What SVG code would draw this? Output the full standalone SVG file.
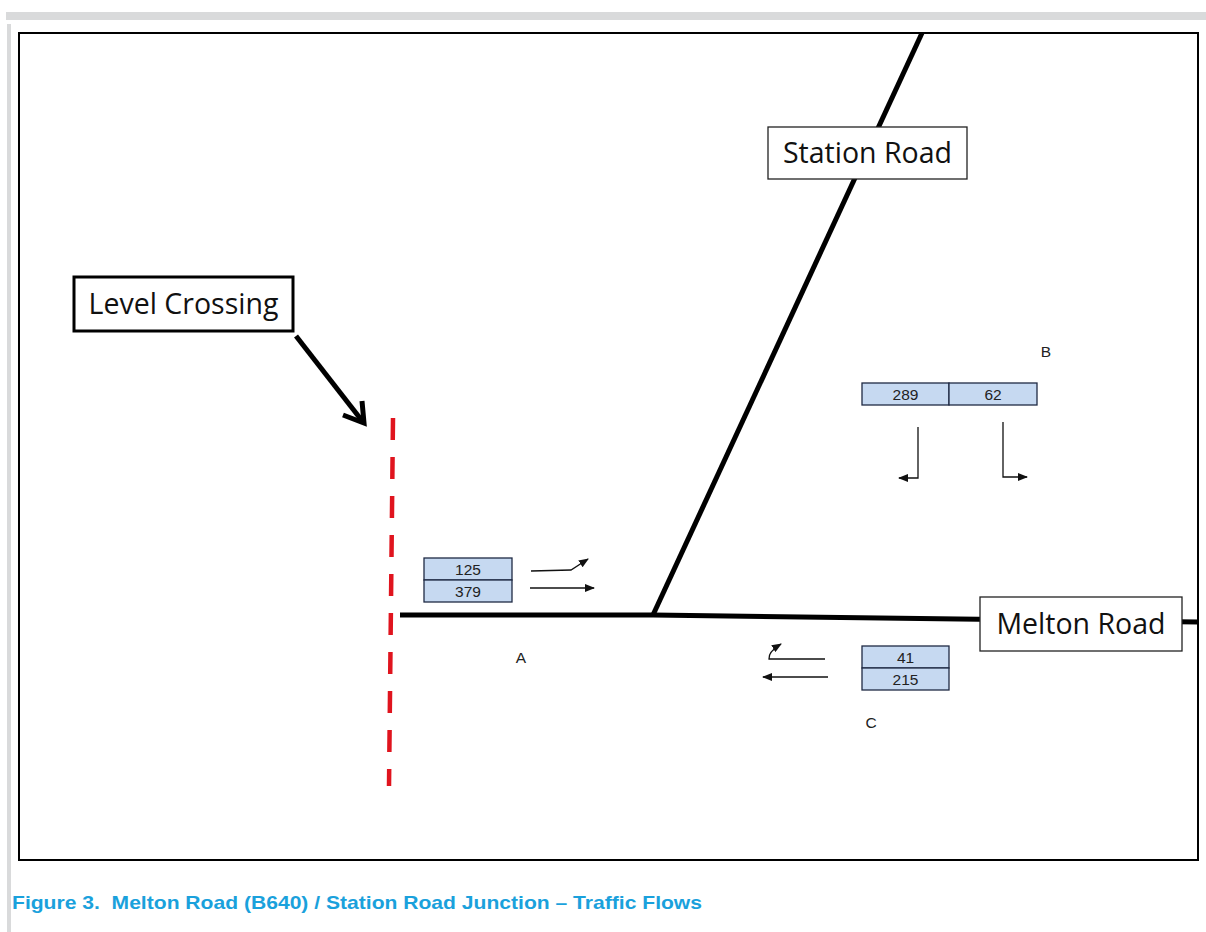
<svg xmlns="http://www.w3.org/2000/svg" width="1206" height="932" viewBox="0 0 1206 932">
<style>
.lbl{font-family:"Open Sans","Liberation Sans",sans-serif;font-size:28.5px;fill:#111}
.num{font-family:"Liberation Sans",Arial,sans-serif;font-size:15.5px;fill:#222;text-anchor:middle}
.pt{font-family:"Liberation Sans",Arial,sans-serif;font-size:15.5px;fill:#222;text-anchor:middle}
.box{fill:#c6d9f1;stroke:#1f2a44;stroke-width:1.3}
.flow{fill:none;stroke:#111;stroke-width:1.3}
.road{stroke:#000;stroke-width:5;fill:none}
</style>
<defs>
<marker id="ah" markerWidth="10" markerHeight="8" refX="9" refY="4" orient="auto" markerUnits="userSpaceOnUse">
<path d="M0,0 L10,4 L0,8 z" fill="#111"/>
</marker>
</defs>
<rect width="1206" height="932" fill="#fff"/>
<rect x="6" y="12" width="1200" height="8" fill="#d9dadb"/>
<rect x="7" y="24" width="4" height="908" fill="#d9dadb"/>
<rect x="19" y="33" width="1179" height="827" fill="#fff" stroke="#000" stroke-width="2"/>

<g id="roads">
<path class="road" d="M400,615 L653,615 L1198,622"/>
<path class="road" d="M653,615 L922,33"/>
</g>

<g id="level-crossing">
<line x1="393" y1="418" x2="389" y2="786" stroke="#e0141e" stroke-width="4.5" stroke-dasharray="22 17"/>
</g>

<g id="connectors">
<path d="M296,336 L363,422" stroke="#000" stroke-width="5" fill="none"/>
<path d="M343,415 L364,423 L362,401" stroke="#000" stroke-width="5" fill="none" stroke-linejoin="miter"/>
<path class="flow" d="M531,571 L571,570 L588,559" marker-end="url(#ah)"/>
<path class="flow" d="M530,588 L594,588" marker-end="url(#ah)"/>
<path class="flow" d="M825,659 L769,659 Q768,652 781,644" marker-end="url(#ah)"/>
<path class="flow" d="M828,677 L763,677" marker-end="url(#ah)"/>
<path class="flow" d="M918,427 L918,478 L899,478" marker-end="url(#ah)"/>
<path class="flow" d="M1003,422 L1003,477 L1027,477" marker-end="url(#ah)"/>
</g>

<g id="label-level-crossing">
<rect x="74" y="277" width="219" height="54" fill="#fff" stroke="#000" stroke-width="3"/>
<text class="lbl" x="183.5" y="314" text-anchor="middle">Level Crossing</text>
</g>
<g id="label-station-road">
<rect x="768" y="127" width="199" height="52" fill="#fff" stroke="#222" stroke-width="1.3"/>
<text class="lbl" x="867.5" y="163" text-anchor="middle">Station Road</text>
</g>
<g id="label-melton-road">
<rect x="980" y="597" width="202" height="54" fill="#fff" stroke="#222" stroke-width="1.3"/>
<text class="lbl" x="1081" y="634" text-anchor="middle">Melton Road</text>
</g>

<g id="flows-A">
<rect class="box" x="424" y="558" width="88" height="22"/>
<rect class="box" x="424" y="580" width="88" height="22"/>
<text class="num" x="468" y="574.5">125</text>
<text class="num" x="468" y="596.5">379</text>
<text class="pt" x="521" y="663">A</text>
</g>
<g id="flows-B">
<rect class="box" x="862" y="383" width="87" height="22"/>
<rect class="box" x="949" y="383" width="88" height="22"/>
<text class="num" x="905.5" y="399.5">289</text>
<text class="num" x="993" y="399.5">62</text>
<text class="pt" x="1046" y="357">B</text>
</g>
<g id="flows-C">
<rect class="box" x="862" y="646" width="87" height="22"/>
<rect class="box" x="862" y="668" width="87" height="22"/>
<text class="num" x="905.5" y="662.5">41</text>
<text class="num" x="905.5" y="684.5">215</text>
<text class="pt" x="871" y="728">C</text>
</g>

<text x="12" y="909" xml:space="preserve" font-family="'Liberation Sans',Arial,sans-serif" font-weight="bold" font-size="19" fill="#1aa1dc" textLength="690" lengthAdjust="spacingAndGlyphs">Figure 3.  Melton Road (B640) / Station Road Junction – Traffic Flows</text>
</svg>
